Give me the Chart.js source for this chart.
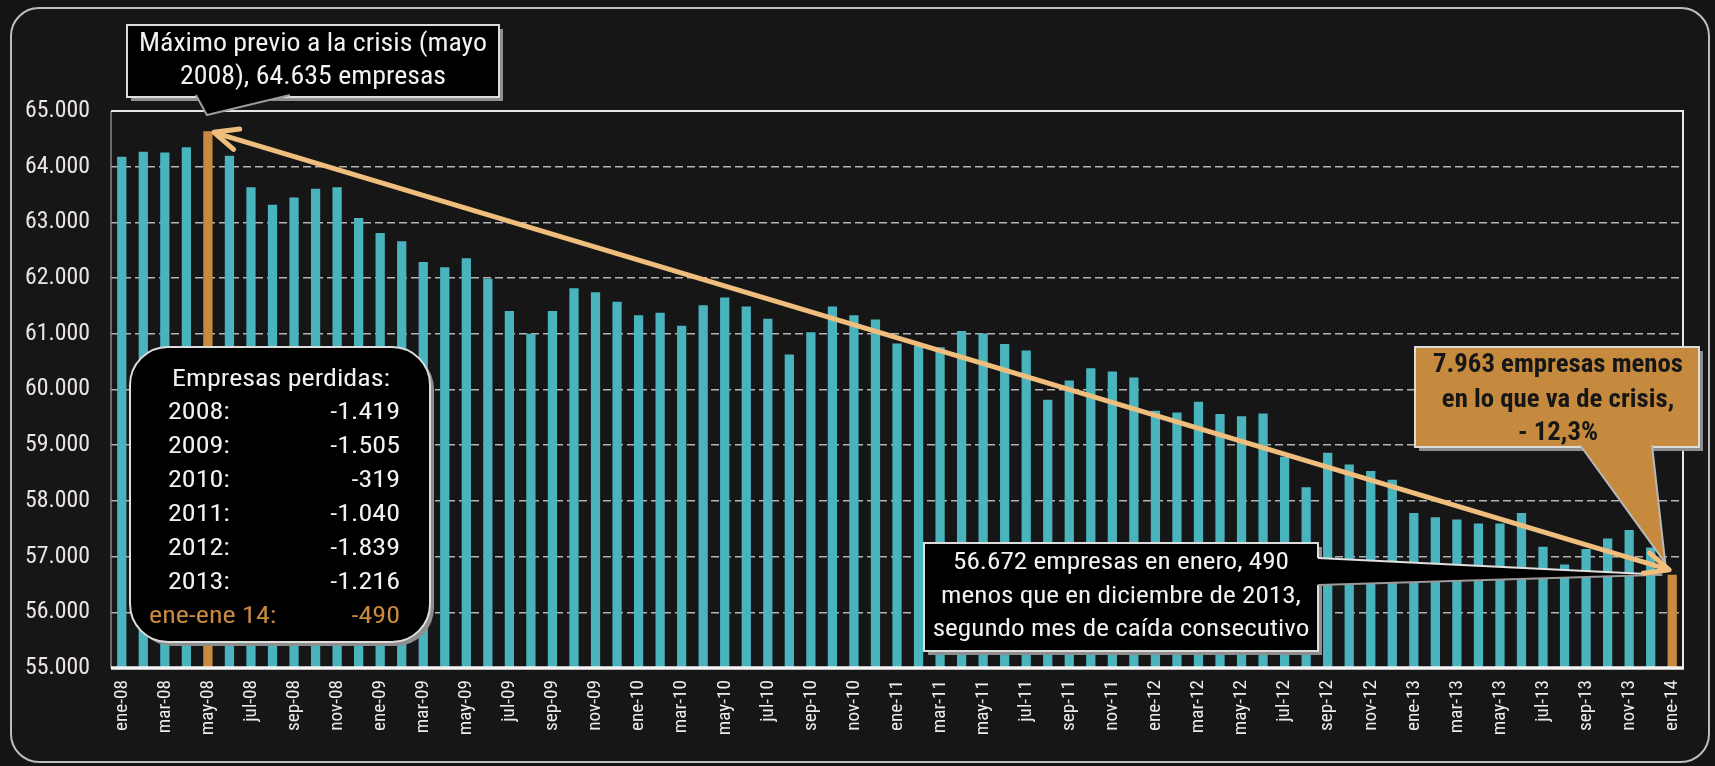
<!DOCTYPE html>
<html><head><meta charset="utf-8">
<script src="https://cdn.jsdelivr.net/npm/chart.js@4/dist/chart.umd.min.js"></script>
<style>html,body{margin:0;padding:0;background:#141414;overflow:hidden}canvas{display:block}</style>
</head><body>
<div style="width:1715px;height:766px;position:relative"><canvas id="c" width="1715" height="766"></canvas></div>
<script>
// ---------- DATA ----------
const monthNames = ['ene','feb','mar','abr','may','jun','jul','ago','sep','oct','nov','dic'];
const yearSuffix = ['08','09','10','11','12','13','14'];
const v2008 = [64180,64270,64257,64347,64635,64198,63629,63317,63449,63605,63629,63081];
const v2009 = [62810,62660,62290,62195,62355,61990,61410,61000,61410,61820,61745,61576];
const v2010 = [61335,61378,61146,61512,61652,61488,61268,60630,61030,61488,61335,61257];
const v2011 = [60824,60781,60757,61050,61005,60815,60700,59815,60160,60381,60324,60217];
const v2012 = [59618,59588,59782,59559,59518,59570,58792,58244,58863,58655,58536,58378];
const v2013 = [57782,57706,57665,57594,57594,57782,57176,56859,57135,57324,57476,57162];
const v2014 = [56672];
const yTickMin = 55000, yTickMax = 65000, yTickStep = 1000;
const lossLabels = ['2008:','2009:','2010:','2011:','2012:','2013:','ene-ene 14:'];
const lossValues = [-1419,-1505,-319,-1040,-1839,-1216,-490];
const peakLabel = 'may-08';
const lastLabel = 'ene-14';
const topNote = ['Máximo previo a la crisis (mayo','2008), 64.635 empresas'];
const bottomNote = ['56.672 empresas en enero, 490','menos que en diciembre de 2013,','segundo mes de caída consecutivo'];
const crisisNote = ['7.963 empresas menos','en lo que va de crisis,','- 12,3%'];
const tableTitle = 'Empresas perdidas:';

const yearly = [v2008,v2009,v2010,v2011,v2012,v2013,v2014];
const labels = [], values = [];
yearly.forEach((arr, yi) => arr.forEach((v, mi) => { labels.push(monthNames[mi] + '-' + yearSuffix[yi]); values.push(v); }));
const peakIdx = labels.indexOf(peakLabel), lastIdx = labels.indexOf(lastLabel);

// ---------- FONTS ----------
const mctx = document.createElement('canvas').getContext('2d');
function hasFont(f){
  const s = 'Máximo previo 65.000 ene-08'; let diff = false;
  for (const base of ['monospace','serif']) {
    mctx.font = '40px ' + base; const a = mctx.measureText(s).width;
    mctx.font = '40px "' + f + '", ' + base; const b = mctx.measureText(s).width;
    if (Math.abs(a - b) > 0.5) diff = true;
  }
  return diff;
}
let FAM = '"Liberation Sans", Arial, sans-serif', STR = '';
let found = false;
for (const f of ['Liberation Sans Narrow','Arial Narrow','Roboto Condensed','Open Sans Condensed','DejaVu Sans Condensed']) {
  if (hasFont(f)) { FAM = '"' + f + '", sans-serif'; found = true; break; }
}
if (!found) {
  mctx.font = '40px "DejaVu Sans"'; const a = mctx.measureText('Máximo previo').width;
  mctx.font = 'condensed 40px "DejaVu Sans"'; const b = mctx.measureText('Máximo previo').width;
  if (b < a - 1) { FAM = '"DejaVu Sans", sans-serif'; STR = 'condensed'; }
}
function fontStr(size, weight){ return (STR ? STR + ' ' : '') + (weight || 'normal') + ' ' + size + 'px ' + FAM; }
function measure(s, size, weight){ mctx.font = fontStr(size, weight); return mctx.measureText(s).width; }
const yTickSize = Math.min(25, 25 * 65 / measure('65.000', 25));
const xTickSize = Math.min(22, 19 * 51 / measure('ene-08', 19));
const fmt = n => String(n).replace(/\B(?=(\d{3})+(?!\d))/g, '.');

// ---------- DRAW HELPERS ----------
function rrect(ctx, x, y, w, h, r){
  ctx.beginPath();
  ctx.moveTo(x + r, y); ctx.lineTo(x + w - r, y); ctx.arcTo(x + w, y, x + w, y + r, r);
  ctx.lineTo(x + w, y + h - r); ctx.arcTo(x + w, y + h, x + w - r, y + h, r);
  ctx.lineTo(x + r, y + h); ctx.arcTo(x, y + h, x, y + h - r, r);
  ctx.lineTo(x, y + r); ctx.arcTo(x, y, x + r, y, r); ctx.closePath();
}
function text(ctx, s, x, y, size, weight, color, sx, align){
  ctx.save(); ctx.font = fontStr(size, weight); ctx.fillStyle = color; ctx.textBaseline = 'middle';
  ctx.textAlign = align || 'center'; ctx.translate(x, y); ctx.scale(sx, 1); ctx.fillText(s, 0, 0); ctx.restore();
}
function box(ctx, x, y, w, h, r, fill){
  ctx.save();
  rrect(ctx, x + 4, y + 4, w, h, r); ctx.fillStyle = '#8e8e8e'; ctx.fill();
  rrect(ctx, x, y, w, h, r); ctx.fillStyle = fill; ctx.fill();
  ctx.lineWidth = 2; ctx.strokeStyle = '#dcdcdc'; ctx.stroke();
  ctx.restore();
}
function wedge(ctx, pts, fill, stroke){
  ctx.save(); ctx.beginPath(); ctx.moveTo(pts[0][0], pts[0][1]);
  for (let i = 1; i < pts.length; i++) ctx.lineTo(pts[i][0], pts[i][1]);
  ctx.closePath(); ctx.fillStyle = fill; ctx.fill();
  ctx.beginPath(); ctx.moveTo(pts[0][0], pts[0][1]); ctx.lineTo(pts[2][0], pts[2][1]); ctx.lineTo(pts[1][0], pts[1][1]);
  ctx.lineWidth = 2; ctx.strokeStyle = stroke; ctx.stroke(); ctx.restore();
}
function arrowHead(ctx, tx, ty, ang, len){
  ctx.beginPath();
  ctx.moveTo(tx + len * Math.cos(ang + 0.42), ty + len * Math.sin(ang + 0.42));
  ctx.lineTo(tx, ty);
  ctx.lineTo(tx + len * Math.cos(ang - 0.42), ty + len * Math.sin(ang - 0.42));
  ctx.stroke();
}

const deco = {
  id: 'deco',
  beforeDraw(chart){
    const ctx = chart.ctx; ctx.save();
    ctx.fillStyle = '#141414'; ctx.fillRect(0, 0, chart.width, chart.height);
    rrect(ctx, 11, 8, 1698, 754, 28); ctx.fillStyle = '#161616'; ctx.fill();
    ctx.lineWidth = 2; ctx.strokeStyle = '#bdbdbd'; ctx.stroke();
    ctx.restore();
  },
  afterDatasetsDraw(chart){
    const ctx = chart.ctx, a = chart.chartArea, xs = chart.scales.x, ys = chart.scales.y;
    ctx.save();
    // frame
    ctx.lineCap = 'butt';
    ctx.strokeStyle = '#8a8a8a'; ctx.lineWidth = 1.5;
    ctx.beginPath(); ctx.moveTo(a.left, a.top); ctx.lineTo(a.left, a.bottom); ctx.stroke();
    ctx.strokeStyle = '#e6e6e6'; ctx.lineWidth = 2;
    ctx.beginPath(); ctx.moveTo(a.left, a.top); ctx.lineTo(a.right, a.top); ctx.lineTo(a.right, a.bottom); ctx.stroke();
    ctx.strokeStyle = '#f4f4f4'; ctx.lineWidth = 3.5;
    ctx.beginPath(); ctx.moveTo(a.left, a.bottom); ctx.lineTo(a.right + 1, a.bottom); ctx.stroke();

    const px = xs.getPixelForValue(peakIdx), py = ys.getPixelForValue(values[peakIdx]);
    const lx = xs.getPixelForValue(lastIdx), ly = ys.getPixelForValue(values[lastIdx]);

    // top callout
    box(ctx, 127, 25, 372, 72, 0, '#000');
    wedge(ctx, [[196, 95], [290, 95], [px - 1, a.top + 4]], '#000', '#9a9a9a');
    let sx = 348 / measure(topNote[0], 25);
    text(ctx, topNote[0], 313, 45, 25, 'normal', '#f2f2f2', sx);
    text(ctx, topNote[1], 313, 78, 25, 'normal', '#f2f2f2', sx);

    // table box
    box(ctx, 130, 347, 300, 295, 38, '#000');
    sx = 218 / measure(tableTitle, 24);
    text(ctx, tableTitle, 281, 380, 24, 'normal', '#f2f2f2', sx);
    lossLabels.forEach((lab, i) => {
      const last = i === lossLabels.length - 1;
      const col = last ? '#c98a3f' : '#f2f2f2';
      const y = 413 + 34 * i;
      text(ctx, lab, last ? 149 : 168, y, 24, 'normal', col, sx, 'left');
      text(ctx, fmt(lossValues[i]), 400, y, 24, 'normal', col, sx, 'right');
    });

    // bottom callout
    box(ctx, 924, 543, 394, 108, 0, '#000');
    ctx.save(); ctx.beginPath(); ctx.moveTo(1316, 558); ctx.lineTo(lx - 10, ly); ctx.lineTo(1316, 585); ctx.closePath();
    ctx.fillStyle = '#000'; ctx.fill();
    ctx.lineWidth = 2; ctx.strokeStyle = '#e0e0e0';
    ctx.beginPath(); ctx.moveTo(1318, 558); ctx.lineTo(lx - 10, ly); ctx.stroke();
    ctx.strokeStyle = '#9a9a9a';
    ctx.beginPath(); ctx.moveTo(1318, 585); ctx.lineTo(lx - 10, ly); ctx.stroke();
    ctx.restore();
    sx = 336 / measure(bottomNote[0], 24);
    text(ctx, bottomNote[0], 1121, 563, 24, 'normal', '#f2f2f2', sx);
    text(ctx, bottomNote[1], 1121, 597, 24, 'normal', '#f2f2f2', sx);
    text(ctx, bottomNote[2], 1121, 630, 24, 'normal', '#f2f2f2', sx);

    // orange callout
    box(ctx, 1415, 347, 284, 100, 0, '#c68a3e');
    wedge(ctx, [[1580, 445], [1652, 445], [lx - 7, ly - 12]], '#c68a3e', '#b8b8b8');
    sx = 250 / measure(crisisNote[0], 26, 'bold');
    text(ctx, crisisNote[0], 1558, 365, 26, 'bold', '#161616', sx);
    text(ctx, crisisNote[1], 1558, 400, 26, 'bold', '#161616', sx);
    text(ctx, crisisNote[2], 1558, 433, 26, 'bold', '#161616', sx);

    // double arrow
    const sX = px + 6, sY = py + 1, eX = lx - 3, eY = ly - 5;
    const ang = Math.atan2(eY - sY, eX - sX);
    ctx.strokeStyle = '#efbd7c'; ctx.lineWidth = 5; ctx.lineCap = 'round'; ctx.lineJoin = 'round';
    ctx.beginPath(); ctx.moveTo(sX + 3, sY + 1); ctx.lineTo(eX - 3, eY - 1); ctx.stroke();
    arrowHead(ctx, sX, sY, ang, 26);
    arrowHead(ctx, eX, eY, ang + Math.PI, 26);
    ctx.restore();
  }
};

const chart = new Chart(document.getElementById('c'), {
  type: 'bar',
  data: { labels, datasets: [{
    data: values,
    backgroundColor: values.map((v, i) => (i === peakIdx || i === lastIdx) ? '#c98a3f' : '#4ab4be'),
    barPercentage: 0.43, categoryPercentage: 1.0, borderWidth: 0
  }]},
  options: {
    responsive: false, animation: false, devicePixelRatio: 1,
    layout: { padding: { left: 0, top: 111, right: 32, bottom: 0 } },
    plugins: { legend: { display: false }, tooltip: { enabled: false } },
    scales: {
      x: {
        grid: { display: false, drawTicks: false },
        border: { display: false },
        ticks: {
          autoSkip: false, maxRotation: 90, minRotation: 90, padding: 12,
          color: '#ececec', font: { family: FAM, size: xTickSize, weight: STR ? STR + ' normal' : 'normal' },
          callback: (v, i) => i % 2 === 0 ? labels[i] : ''
        },
        afterFit: s => { s.height = 98; }
      },
      y: {
        min: yTickMin, max: yTickMax,
        grid: {
          drawTicks: false, lineWidth: 1.5,
          color: c => (c.tick && (c.tick.value === yTickMin || c.tick.value === yTickMax)) ? 'rgba(0,0,0,0)' : '#b4b4b4'
        },
        border: { display: false, dash: [8, 4] },
        ticks: {
          stepSize: yTickStep, padding: 21, color: '#ece4e4',
          font: { family: FAM, size: yTickSize, weight: STR ? STR + ' normal' : 'normal' },
          callback: v => fmt(v)
        },
        afterFit: s => { s.width = 111; }
      }
    }
  },
  plugins: [deco]
});
</script>
</body></html>
